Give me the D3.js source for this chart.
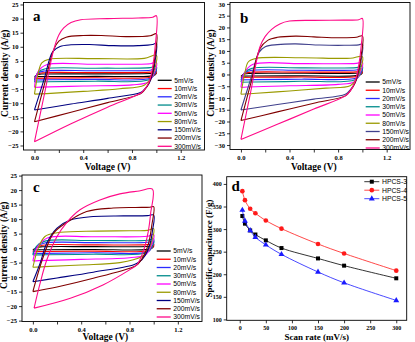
<!DOCTYPE html>
<html><head><meta charset="utf-8">
<script src="https://cdn.jsdelivr.net/npm/d3@7"></script>
<style>
html,body{margin:0;padding:0;background:#fff;}
svg{display:block;}
.serif{font-family:"Times New Roman","Liberation Serif",serif;font-weight:bold;}
.sans{font-family:Arial,"Liberation Sans",sans-serif;}
</style></head><body>
<svg id="c" width="415" height="342"></svg>
<script>
// ---------- DATA ----------
const scanLabels = ["5mV/s","10mV/s","20mV/s","30mV/s","50mV/s","80mV/s","150mV/s","200mV/s","300mV/s"];
const voltTicks = [0, 0.2, 0.4, 0.6, 0.8, 1.0, 1.2];
const voltLabels = ["0.0", "", "0.4", "", "0.8", "", "1.2"];
const curTicksA = [25,20,15,10,5,0,-5,-10,-15,-20,-25];
const curTicksB = [30,25,20,15,10,5,0,-5,-10,-15,-20,-25,-30];
const curTicksC = [25,20,15,10,5,0,-5,-10,-15,-20,-25];
const panelLetters = ["a","b","c","d"];

// CV loops [voltage, current density], panel a (one loop per scan rate)
const cvA = [
 [[0,-0.6],[0.03,0.2],[0.08,0.35],[0.5,0.4],[0.95,0.5],[1.0,0.7],[0.99,0.1],[0.95,-0.4],[0.5,-0.5],[0.1,-0.55],[0,-0.6]],
 [[0,-1.2],[0.03,0.4],[0.08,0.8],[0.5,0.85],[0.95,1.0],[1.0,1.3],[0.99,0.2],[0.95,-0.8],[0.5,-1.0],[0.1,-1.1],[0,-1.2]],
 [[0,-1.8],[0.03,0.7],[0.08,1.4],[0.5,1.5],[0.95,1.7],[1.0,2.1],[0.985,0.3],[0.95,-1.2],[0.5,-1.55],[0.1,-1.7],[0,-1.8]],
 [[0,-2.5],[0.03,1.0],[0.09,2.2],[0.5,2.4],[0.95,2.6],[1.0,3.0],[0.985,0.4],[0.94,-1.7],[0.5,-2.2],[0.1,-2.4],[0,-2.5]],
 [[0,-4.4],[0.03,1.2],[0.1,3.6],[0.5,3.8],[0.95,4.0],[1.0,4.5],[0.98,0.5],[0.93,-2.6],[0.8,-3.5],[0.4,-3.9],[0.05,-4.3],[0,-4.4]],
 [[0,-6.8],[0.03,0.5],[0.06,4.3],[0.12,5.6],[0.5,5.8],[0.9,5.9],[1.0,7.0],[0.985,2],[0.95,-1.5],[0.9,-3.6],[0.7,-4.9],[0.4,-5.8],[0.1,-6.6],[0,-6.8]],
 [[0,-12.4],[0.08,-1.4],[0.15,8.3],[0.21,10.1],[0.3,10.7],[0.45,10.8],[0.65,10.4],[0.85,10.4],[0.97,10.8],[1.0,11.3],[0.99,5],[0.97,0.5],[0.94,-3],[0.9,-5.2],[0.87,-6.2],[0.6,-8.3],[0.3,-10.3],[0,-12.4]],
 [[0,-16.6],[0.08,-3.6],[0.158,9],[0.2,12],[0.26,13.4],[0.4,14],[0.55,14],[0.75,13.6],[0.95,13.9],[1.0,14.6],[0.99,7],[0.97,1.5],[0.94,-2.8],[0.9,-5.5],[0.87,-6.7],[0.6,-9.8],[0.3,-13.2],[0,-16.6]],
 [[0,-23.7],[0.08,-7.1],[0.158,9],[0.2,14.2],[0.24,16.7],[0.3,18.6],[0.38,19.6],[0.6,20],[0.85,20.2],[0.97,20.5],[1.0,21],[0.99,10],[0.97,3],[0.94,-2.5],[0.9,-5.3],[0.87,-6.5],[0.6,-11.4],[0.3,-17.3],[0,-23.7]]
];
// panel b
const cvB = [
 [[0,-0.7],[0.03,0.2],[0.08,0.45],[0.5,0.5],[0.95,0.55],[1.0,0.8],[0.99,0.1],[0.95,-0.5],[0.5,-0.6],[0.1,-0.65],[0,-0.7]],
 [[0,-1.3],[0.03,0.4],[0.08,0.95],[0.5,1.0],[0.95,1.1],[1.0,1.4],[0.99,0.2],[0.95,-0.9],[0.5,-1.1],[0.1,-1.2],[0,-1.3]],
 [[0,-2.3],[0.03,0.6],[0.08,1.7],[0.5,1.8],[0.95,1.9],[1.0,2.4],[0.985,0.3],[0.95,-1.5],[0.5,-2.0],[0.1,-2.2],[0,-2.3]],
 [[0,-3.3],[0.03,0.8],[0.09,2.6],[0.5,2.8],[0.95,2.9],[1.0,3.4],[0.985,0.4],[0.94,-2.2],[0.5,-2.9],[0.1,-3.2],[0,-3.3]],
 [[0,-5.5],[0.03,0.8],[0.1,4.3],[0.5,4.6],[0.95,4.7],[1.0,5.2],[0.98,0.6],[0.93,-3.2],[0.8,-4.2],[0.4,-4.8],[0.05,-5.3],[0,-5.5]],
 [[0,-8.4],[0.03,0],[0.06,5.3],[0.12,6.8],[0.5,7.1],[0.9,6.9],[1.0,7.6],[0.985,2.5],[0.95,-2],[0.9,-4.8],[0.7,-5.8],[0.4,-7.0],[0.1,-8.1],[0,-8.4]],
 [[0,-15.1],[0.08,-2.0],[0.15,9.5],[0.2,11.8],[0.3,12.7],[0.45,13],[0.65,12.5],[0.85,12.4],[0.97,12.6],[1.0,12.9],[0.99,6],[0.97,1],[0.94,-3.5],[0.9,-6.5],[0.86,-8.4],[0.6,-10.5],[0.3,-12.8],[0,-15.1]],
 [[0,-19.6],[0.08,-4.0],[0.157,11],[0.22,14.5],[0.3,15.8],[0.45,16.3],[0.6,16],[0.8,15.6],[0.95,15.8],[1.0,16.4],[0.99,8],[0.97,2],[0.94,-3.5],[0.9,-7],[0.86,-9.1],[0.6,-12.2],[0.3,-15.9],[0,-19.6]],
 [[0,-27.6],[0.08,-7.5],[0.157,11.8],[0.2,16.2],[0.253,19.2],[0.32,21.5],[0.4,22.7],[0.6,23],[0.85,23.1],[0.97,23.3],[1.0,23.8],[0.99,12],[0.97,4],[0.94,-3],[0.9,-7],[0.86,-9.1],[0.6,-14.7],[0.3,-21.2],[0,-27.6]]
];
// panel c
const cvC = [
 [[0,-0.6],[0.03,0.2],[0.08,0.45],[0.5,0.5],[0.95,0.55],[1.0,0.8],[0.99,0.1],[0.95,-0.45],[0.5,-0.5],[0.1,-0.55],[0,-0.6]],
 [[0,-1.2],[0.03,0.3],[0.08,1.0],[0.5,1.1],[0.95,1.2],[1.0,1.5],[0.99,0.2],[0.95,-0.9],[0.5,-1.05],[0.1,-1.15],[0,-1.2]],
 [[0,-1.9],[0.03,0.5],[0.09,1.7],[0.5,1.9],[0.95,2.0],[1.0,2.5],[0.985,0.3],[0.95,-1.3],[0.5,-1.6],[0.1,-1.8],[0,-1.9]],
 [[0,-2.4],[0.03,0.6],[0.1,2.4],[0.5,2.6],[0.95,2.7],[1.0,3.2],[0.985,0.4],[0.94,-1.6],[0.5,-2.1],[0.1,-2.3],[0,-2.4]],
 [[0,-4.4],[0.04,0.5],[0.12,3.5],[0.5,3.9],[0.95,4.1],[1.0,4.7],[0.98,0.8],[0.93,-2.4],[0.8,-3.3],[0.4,-3.9],[0.05,-4.3],[0,-4.4]],
 [[0,-6.6],[0.045,0],[0.1,4],[0.2,5.3],[0.44,5.8],[0.8,6.0],[0.95,6.1],[1.0,6.7],[0.985,2.5],[0.95,-1],[0.9,-3],[0.72,-5.0],[0.4,-5.8],[0.1,-6.4],[0,-6.6]],
 [[0,-11.6],[0.06,-5.2],[0.115,1.7],[0.2,6.9],[0.31,9.7],[0.5,10.9],[0.75,11.1],[0.95,11.2],[1.0,11.4],[0.99,6],[0.97,1.5],[0.93,-2.5],[0.88,-4.8],[0.83,-5.8],[0.5,-8.3],[0.2,-10.3],[0,-11.6]],
 [[0,-15],[0.087,-2.9],[0.17,5.1],[0.29,9.1],[0.445,12.6],[0.665,13.8],[0.85,14],[0.97,14.1],[1.0,14.3],[0.985,8],[0.96,2],[0.92,-2.5],[0.87,-5.5],[0.83,-6.5],[0.5,-10.4],[0.2,-13.4],[0,-15]],
 [[0.01,-20.7],[0.06,-12.1],[0.115,-4.1],[0.2,4],[0.28,8.8],[0.39,13.2],[0.555,16.6],[0.72,18.7],[0.88,19.7],[0.99,20.3],[0.975,12],[0.955,5.7],[0.913,-1.2],[0.86,-5.8],[0.8,-7.5],[0.58,-12.7],[0.31,-17.3],[0.01,-20.7]]
];

// panel d
const scanRates = [5, 10, 20, 30, 50, 80, 150, 200, 300];
const hpcs3 = [329, 312, 297, 288, 275, 258, 235, 219, 191];
const hpcs4 = [384, 364, 345, 335, 319, 301, 267, 246, 208];
const hpcs5 = [342, 318, 297, 282, 265, 244, 205, 181, 142];
const seriesNames = ["HPCS-3", "HPCS-4", "HPCS-5"];
const rateTicks = [0, 50, 100, 150, 200, 250, 300];
const capTicks = [100, 150, 200, 250, 300, 350, 400];

// ---------- STYLE ----------
const cvColors = ["#000000","#ff0000","#2b2bff","#008c8c","#ff00ff","#9a9a00","#000080","#800000","#ff0a88"];
const cvColorsB = ["#000000","#ff0000","#2b2bff","#008c8c","#ff00ff","#9a9a00","#40408c","#800000","#ff0a88"];
const dColors = ["#000000","#ff1a1a","#1a1aff"];

const svg = d3.select("#c");
svg.append("rect").attr("width",415).attr("height",342).attr("fill","#fff");

function styleAxis(a, fs){
  a.select(".domain").remove();
  a.selectAll("line").attr("stroke","#000").attr("stroke-width",0.8);
  a.selectAll("text").attr("class","serif").attr("font-size",fs).attr("fill","#000");
}

function cvPanel(cfg){
  const x = d3.scaleLinear().domain(cfg.xd).range(cfg.xr);
  const y = d3.scaleLinear().domain(cfg.yd).range(cfg.yr);
  const g = svg.append("g");
  const clipId = "clip"+cfg.id;
  svg.append("clipPath").attr("id",clipId).append("rect")
    .attr("x",cfg.xr[0]).attr("y",cfg.yr[1]).attr("width",cfg.xr[1]-cfg.xr[0]).attr("height",cfg.yr[0]-cfg.yr[1]);
  const line = d3.line().x(d=>x(d[0])).y(d=>y(d[1])).curve(d3.curveCatmullRom.alpha(0.5));
  const pg = g.append("g").attr("clip-path",`url(#${clipId})`);
  cfg.data.forEach((loop,i)=>{
    pg.append("path").attr("d",line(loop)).attr("fill","none")
      .attr("stroke",cfg.colors[i]).attr("stroke-width",1.1).attr("stroke-linejoin","round");
  });
  const ax = g.append("g").attr("transform",`translate(0,${cfg.yr[0]})`)
    .call(d3.axisBottom(x).tickValues(voltTicks).tickFormat((d,i)=>voltLabels[i]).tickSize(3).tickSizeOuter(0).tickPadding(2.5));
  const ay = g.append("g").attr("transform",`translate(${cfg.xr[0]},0)`)
    .call(d3.axisLeft(y).tickValues(cfg.yticks).tickFormat(d3.format("d")).tickSize(3).tickSizeOuter(0).tickPadding(2));
  styleAxis(ax,"6.5px"); styleAxis(ay,"6.5px");
  g.append("rect").attr("x",cfg.xr[0]).attr("y",cfg.yr[1]).attr("width",cfg.xr[1]-cfg.xr[0]).attr("height",cfg.yr[0]-cfg.yr[1])
    .attr("fill","none").attr("stroke","#000").attr("stroke-width",0.9);
  g.append("text").attr("class","serif").attr("font-size","9.5px").attr("text-anchor","middle")
    .attr("x",(x(0)+x(1.2))/2 ).attr("y",cfg.yr[0]+cfg.xlOff).text("Voltage (V)");
  g.append("text").attr("class","serif").attr("font-size","9.5px").attr("text-anchor","middle")
    .attr("transform",`translate(${cfg.ylx},${(cfg.yr[0]+cfg.yr[1])/2 - 3}) rotate(-90)`).text("Current density (A/g)");
  g.append("text").attr("class","serif").attr("font-size","15px").attr("x",cfg.letter[0]).attr("y",cfg.letter[1]).text(cfg.letterText);
  scanLabels.forEach((lab,i)=>{
    const ly = cfg.leg[1] + i*8.25;
    g.append("line").attr("x1",cfg.leg[0]).attr("x2",cfg.leg[0]+14).attr("y1",ly).attr("y2",ly)
      .attr("stroke",cfg.colors[i]).attr("stroke-width",1.3);
    g.append("text").attr("class","sans").attr("font-size","6.8px").attr("x",cfg.leg[0]+16.5).attr("y",ly+2.4).text(lab);
  });
}

cvPanel({id:"a",data:cvA,colors:cvColors,xd:[-0.09,1.395],xr:[23.5,204.5],yd:[-26.6,25.7],yr:[150,2.5],
  yticks:curTicksA,ylx:8,xlOff:20,letter:[33,21],letterText:panelLetters[0],leg:[157.7,80.3]});
cvPanel({id:"b",data:cvB,colors:cvColorsB,xd:[-0.09,1.392],xr:[230,410],yd:[-31.9,30.6],yr:[149.5,2.5],
  yticks:curTicksB,ylx:214,xlOff:20,letter:[240,22.5],letterText:panelLetters[1],leg:[365.7,82]});
cvPanel({id:"c",data:cvC,colors:cvColors,xd:[-0.09,1.40],xr:[22,202],yd:[-25.3,25.2],yr:[321.5,175],
  yticks:curTicksC,ylx:7,xlOff:18.5,letter:[33,191.5],letterText:panelLetters[2],leg:[156.7,251]});

// ---------- panel d ----------
(function(){
  const xr=[226.7,406.7], yr=[320.3,176.7];
  const x = d3.scaleLinear().domain([-25,320]).range(xr);
  const y = d3.scaleLinear().domain([98,416]).range(yr);
  const g = svg.append("g");
  const ax = g.append("g").attr("transform",`translate(0,${yr[0]})`)
    .call(d3.axisBottom(x).tickValues(rateTicks).tickFormat(d3.format("d")).tickSize(3).tickSizeOuter(0).tickPadding(2));
  const ay = g.append("g").attr("transform",`translate(${xr[0]},0)`)
    .call(d3.axisLeft(y).tickValues(capTicks).tickFormat(d3.format("d")).tickSize(3).tickSizeOuter(0).tickPadding(2));
  styleAxis(ax,"6px"); styleAxis(ay,"6px");
  g.append("rect").attr("x",xr[0]).attr("y",yr[1]).attr("width",xr[1]-xr[0]).attr("height",yr[0]-yr[1])
    .attr("fill","none").attr("stroke","#000").attr("stroke-width",0.9);
  const series=[hpcs3,hpcs4,hpcs5];
  const line = d3.line().x((d,i)=>x(scanRates[i])).y(d=>y(d)).curve(d3.curveCatmullRom.alpha(0.5));
  const sym=[d3.symbolSquare,d3.symbolCircle,d3.symbolTriangle];
  const symSize=[16,17,15];
  series.forEach((s,k)=>{
    g.append("path").attr("d",line(s)).attr("fill","none").attr("stroke",dColors[k]).attr("stroke-width",0.8);
    s.forEach((v,i)=>{
      g.append("path").attr("d",d3.symbol(sym[k],symSize[k])())
        .attr("transform",`translate(${x(scanRates[i])},${y(v)})`).attr("fill",dColors[k]);
    });
  });
  seriesNames.forEach((n,k)=>{
    const ly = 181.7 + k*8.5;
    g.append("line").attr("x1",364.3).attr("x2",379.3).attr("y1",ly).attr("y2",ly).attr("stroke",dColors[k]).attr("stroke-width",0.8);
    g.append("path").attr("d",d3.symbol(sym[k],symSize[k])()).attr("transform",`translate(371.8,${ly})`).attr("fill",dColors[k]);
    g.append("text").attr("class","sans").attr("font-size","6.8px").attr("x",382).attr("y",ly+2.4).text(n);
  });
  g.append("text").attr("class","serif").attr("font-size","9px").attr("text-anchor","middle")
    .attr("x",(xr[0]+xr[1])/2).attr("y",339.5).text("Scan rate (mV/s)");
  g.append("text").attr("class","serif").attr("font-size","9px").attr("text-anchor","middle")
    .attr("transform",`translate(212,${(yr[0]+yr[1])/2}) rotate(-90)`).text("Specific capacitance (F/g)");
  g.append("text").attr("class","serif").attr("font-size","15px").attr("x",231.5).attr("y",191).text(panelLetters[3]);
})();
</script>
</body></html>
